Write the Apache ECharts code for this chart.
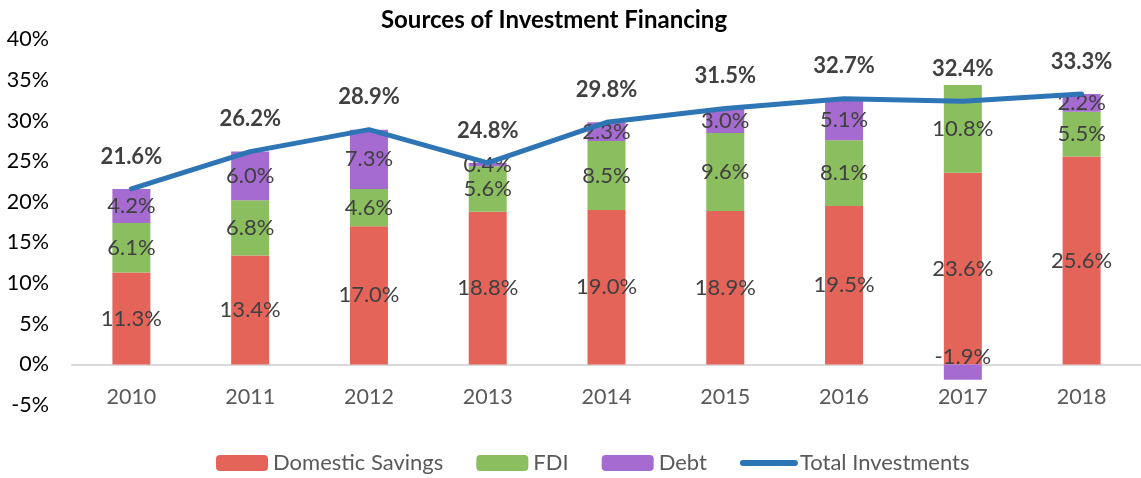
<!DOCTYPE html>
<html>
<head>
<meta charset="utf-8">
<script src="https://cdn.jsdelivr.net/npm/echarts@6/dist/echarts.min.js"></script>
<style>html,body{margin:0;padding:0;background:#fff}#c{width:1141px;height:478px}</style>
</head>
<body>
<div id="c"></div>
<script>
const years = ['2010','2011','2012','2013','2014','2015','2016','2017','2018'];
const domestic = [11.3, 13.4, 17.0, 18.8, 19.0, 18.9, 19.5, 23.6, 25.6];
const fdi = [6.1, 6.8, 4.6, 5.6, 8.5, 9.6, 8.1, 10.8, 5.5];
const debt = [4.2, 6.0, 7.3, 0.4, 2.3, 3.0, 5.1, -1.9, 2.2];
const total = [21.6, 26.2, 28.9, 24.8, 29.8, 31.5, 32.7, 32.4, 33.3];

const FONT = 'Lato, "Open Sans", sans-serif';
const fmt = p => Number(p.value).toFixed(1) + '%';
const barLabel = {show: true, position: 'inside', color: '#404040', fontSize: 22, fontFamily: FONT, formatter: fmt};

const chart = echarts.init(document.getElementById('c'), null, {renderer: 'canvas'});
chart.setOption({
  animation: false,
  title: {text: 'Sources of Investment Financing', left: 549, textAlign: 'center', top: 3,
    textStyle: {fontSize: 24, fontWeight: 'bold', color: '#000', fontFamily: FONT}},
  legend: {top: 447, left: 211, itemWidth: 52, itemHeight: 16, itemGap: 33,
    textStyle: {color: '#595959', fontSize: 22, fontFamily: FONT},
    data: ['Domestic Savings', 'FDI', 'Debt',
      {name: 'Total Investments', itemStyle: {opacity: 0}, lineStyle: {width: 6, cap: 'round'}}]},
  grid: {left: 72, right: 0, top: 39.5, bottom: 73, containLabel: false},
  xAxis: {type: 'category', data: years,
    axisLine: {onZero: true, lineStyle: {color: '#D9D9D9', width: 2}}, axisTick: {show: false},
    axisLabel: {color: '#595959', fontSize: 21.5, fontFamily: FONT, margin: -19}},
  yAxis: {type: 'value', min: -5, max: 40, interval: 5,
    axisLine: {show: false}, axisTick: {show: false}, splitLine: {show: false},
    axisLabel: {color: '#000', fontSize: 21.5, fontFamily: FONT, margin: 23, formatter: v => v + '%'}},
  series: [
    {name: 'Domestic Savings', type: 'bar', stack: 's', barWidth: 38, data: domestic,
      itemStyle: {color: '#E4645A'}, label: barLabel},
    {name: 'FDI', type: 'bar', stack: 's', barWidth: 38, data: fdi,
      itemStyle: {color: '#8BBE5E'}, label: barLabel},
    {name: 'Debt', type: 'bar', stack: 's', barWidth: 38,
      data: debt.map(v => v < 0 ? {value: v, label: {position: 'top', distance: -4}} : v),
      itemStyle: {color: '#A56BD1'}, label: barLabel},
    {name: 'Total Investments', type: 'line', data: total, symbol: 'circle', symbolSize: 1,
      showSymbol: true,
      lineStyle: {color: '#2E75B6', width: 5, cap: 'round'}, itemStyle: {color: '#2E75B6'},
      label: {show: true, position: 'top', distance: 21, color: '#404040', fontSize: 22,
        fontWeight: 'bold', fontFamily: FONT, formatter: fmt}, z: 5}
  ]
});
</script>
</body>
</html>
